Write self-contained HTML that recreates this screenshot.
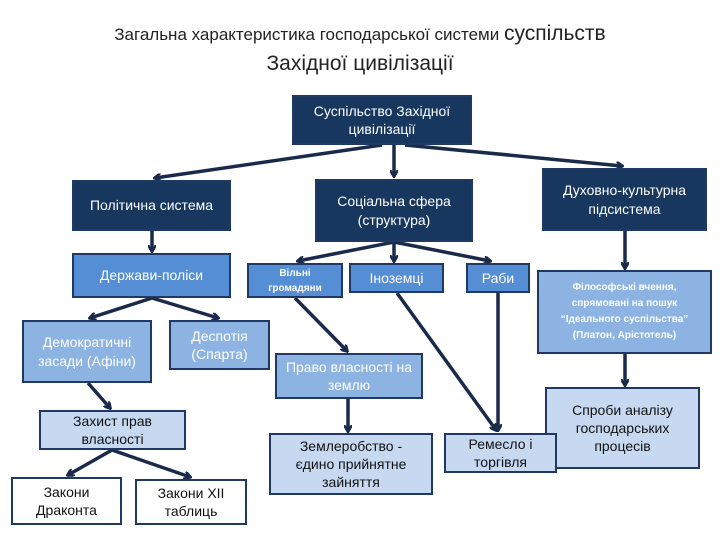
<!DOCTYPE html>
<html><head><meta charset="utf-8"><style>
body{margin:0;width:720px;height:540px;background:#fff;position:relative;overflow:hidden;font-family:"Liberation Sans","DejaVu Sans",sans-serif;}
.b{position:absolute;box-sizing:border-box;border:2px solid #1f3864;display:flex;align-items:center;justify-content:center;text-align:center;line-height:1.3;}
.d{background:#17375e;color:#fff;}
.m{background:#558ed5;color:#fff;}
.l{background:#8db3e2;color:#fff;}
.x{background:#c6d9f1;color:#111;}
.w{background:#fff;color:#111;}
svg{position:absolute;left:0;top:0;}
</style></head><body>
<div style="position:absolute;left:0;width:720px;top:22px;text-align:center;color:#222;font-size:17px;">Загальна характеристика господарської системи <span style="font-size:21px">суспільств</span></div>
<div style="position:absolute;left:0;width:720px;top:52px;text-align:center;color:#222;font-size:21px;">Західної цивілізації</div>
<svg width="720" height="540">
<defs><marker id="a" markerWidth="8" markerHeight="8" refX="6" refY="4" orient="auto" markerUnits="userSpaceOnUse"><path d="M0,0 L7,4 L0,8" fill="none" stroke="#1a2a4a" stroke-width="2.5"/></marker></defs>
<g stroke="#1a2a4a" stroke-width="3.5" fill="none" marker-end="url(#a)">
<line x1="382" y1="145" x2="155" y2="178"/>
<line x1="394" y1="145" x2="394" y2="176"/>
<line x1="405" y1="145" x2="622" y2="166"/>
<line x1="152" y1="231" x2="152" y2="251"/>
<line x1="152" y1="298" x2="90" y2="318"/>
<line x1="152" y1="298" x2="218" y2="318"/>
<line x1="394" y1="242" x2="298" y2="261"/>
<line x1="394" y1="242" x2="394" y2="261"/>
<line x1="394" y1="242" x2="490" y2="261"/>
<line x1="295" y1="298" x2="347" y2="351"/>
<line x1="348" y1="399" x2="348" y2="431"/>
<line x1="397" y1="293" x2="496" y2="430"/>
<line x1="498" y1="293" x2="498" y2="430"/>
<line x1="625" y1="231" x2="625" y2="268"/>
<line x1="625" y1="354" x2="625" y2="385"/>
<line x1="88" y1="383" x2="110" y2="408"/>
<line x1="112" y1="450" x2="68" y2="475"/>
<line x1="112" y1="450" x2="190" y2="477"/>
</g></svg>
<div class="b d" style="left:292px;top:95px;width:180px;height:50px;font-size:14px;">Суспільство Західної<br>цивілізації</div>
<div class="b d" style="left:72px;top:180px;width:159px;height:51px;font-size:14px;">Політична система</div>
<div class="b d" style="left:315px;top:179px;width:158px;height:63px;font-size:14px;">Соціальна сфера<br>(структура)</div>
<div class="b d" style="left:542px;top:168px;width:165px;height:63px;font-size:14px;">Духовно-культурна<br>підсистема</div>
<div class="b m" style="left:72px;top:253px;width:159px;height:45px;font-size:14px;">Держави-поліси</div>
<div class="b m" style="left:247px;top:263px;width:96px;height:35px;font-size:10px;font-weight:bold;line-height:1.5;">Вільні<br>громадяни</div>
<div class="b m" style="left:349px;top:263px;width:95px;height:30px;font-size:14px;">Іноземці</div>
<div class="b m" style="left:466px;top:263px;width:64px;height:30px;font-size:14px;">Раби</div>
<div class="b l" style="left:537px;top:270px;width:175px;height:84px;font-size:10px;font-weight:bold;line-height:1.6;">Філософські вчення,<br>спрямовані на пошук<br>“Ідеального суспільства”<br>(Платон, Арістотель)</div>
<div class="b l" style="left:22px;top:320px;width:130px;height:63px;font-size:14px;">Демократичні<br>засади (Афіни)</div>
<div class="b l" style="left:169px;top:320px;width:101px;height:50px;font-size:14px;">Деспотія<br>(Спарта)</div>
<div class="b l" style="left:275px;top:353px;width:148px;height:46px;font-size:14px;">Право власності на<br>землю</div>
<div class="b x" style="left:545px;top:387px;width:155px;height:82px;font-size:14px;">Спроби аналізу<br>господарських<br>процесів</div>
<div class="b x" style="left:39px;top:410px;width:147px;height:40px;font-size:14px;">Захист прав<br>власності</div>
<div class="b x" style="left:269px;top:433px;width:164px;height:62px;font-size:14px;">Землеробство -<br>єдино прийнятне<br>зайняття</div>
<div class="b x" style="left:444px;top:433px;width:113px;height:40px;font-size:14px;">Ремесло і<br>торгівля</div>
<div class="b w" style="left:11px;top:477px;width:111px;height:48px;font-size:14px;">Закони<br>Драконта</div>
<div class="b w" style="left:135px;top:479px;width:112px;height:46px;font-size:14px;">Закони XII<br>таблиць</div>
</body></html>
